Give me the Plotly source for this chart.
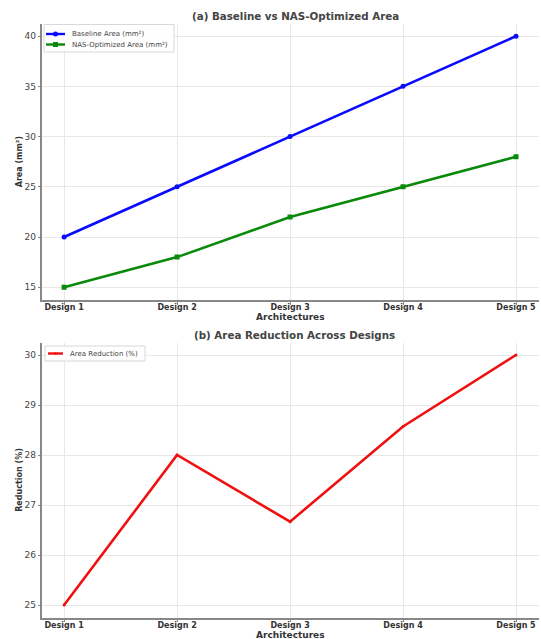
import plotly.graph_objects as go

designs = ["Design 1", "Design 2", "Design 3", "Design 4", "Design 5"]
baseline_area = [20, 25, 30, 35, 40]
nas_area = [15, 18, 22, 25, 28]
reduction_pct = [(b - n) / b * 100 for b, n in zip(baseline_area, nas_area)]

W, H = 541, 639
FONT = "DejaVu Sans"
BLUE, GREEN, RED = "#0a0aff", "#0a8a0a", "#f01010"


def px(x):
    return x / W


def py(y):
    return 1 - y / H


fig = go.Figure()

fig.add_trace(go.Scatter(
    x=designs, y=baseline_area, mode="lines+markers", name="Baseline Area (mm²)",
    line=dict(color=BLUE, width=2.6), marker=dict(size=5, color=BLUE),
    xaxis="x", yaxis="y"))
fig.add_trace(go.Scatter(
    x=designs, y=nas_area, mode="lines+markers", name="NAS-Optimized Area (mm²)",
    line=dict(color=GREEN, width=2.6), marker=dict(size=5, color=GREEN, symbol="square"),
    xaxis="x", yaxis="y"))
fig.add_trace(go.Scatter(
    x=designs, y=reduction_pct, mode="lines+markers", name="Area Reduction (%)",
    line=dict(color=RED, width=2.6), marker=dict(size=3, color=RED),
    xaxis="x2", yaxis="y2"))

xdom = [px(41.5), px(538.6)]
y1dom = [py(299.8), py(23.6)]
y2dom = [py(617.5), py(342.5)]

grid = "#e8e8e8"
axcol = "#888888"
common_x = dict(
    type="category", range=[-0.2, 4.2], domain=xdom, automargin=False,
    showgrid=True, gridcolor=grid, gridwidth=1,
    showline=True, linecolor=axcol, linewidth=1.5,
    ticks="outside", ticklen=3, tickcolor=axcol, ticklabelstandoff=-4,
    tickfont=dict(family=FONT, size=8, color="#333333", weight="bold"),
    zeroline=False,
)
common_y = dict(
    automargin=False,
    showgrid=True, gridcolor=grid, gridwidth=1,
    showline=True, linecolor=axcol, linewidth=1.5,
    ticks="outside", ticklen=2, tickcolor=axcol,
    tickfont=dict(family=FONT, size=9, color="#444444"),
    zeroline=False,
)

# hand-built compact legends (boxes, line samples, markers and labels)
shapes = []
annotations = []


def legend_box(x0, y0, x1, y1):
    shapes.append(dict(type="rect", xref="paper", yref="paper",
                       x0=px(x0), x1=px(x1), y0=py(y1), y1=py(y0),
                       line=dict(color="#d8d8d8", width=1), fillcolor="rgba(255,255,255,0.9)"))


def legend_entry(x0, x1, y, color, label, marker=None, msize=2.5):
    shapes.append(dict(type="line", xref="paper", yref="paper",
                       x0=px(x0), x1=px(x1), y0=py(y), y1=py(y),
                       line=dict(color=color, width=2.4)))
    xm = (x0 + x1) / 2
    if marker == "circle":
        shapes.append(dict(type="circle", xref="paper", yref="paper",
                           x0=px(xm - msize), x1=px(xm + msize), y0=py(y + msize), y1=py(y - msize),
                           line=dict(width=0), fillcolor=color))
    elif marker == "square":
        shapes.append(dict(type="rect", xref="paper", yref="paper",
                           x0=px(xm - msize), x1=px(xm + msize), y0=py(y + msize), y1=py(y - msize),
                           line=dict(width=0), fillcolor=color))
    annotations.append(dict(text=label, x=px(x1 + 5), y=py(y), xref="paper", yref="paper",
                            showarrow=False, xanchor="left", yanchor="middle",
                            font=dict(family=FONT, size=7, color="#444444")))


legend_box(44, 24.5, 174, 52)
legend_entry(46, 65, 34, BLUE, "Baseline Area (mm²)", "circle")
legend_entry(46, 65, 44.5, GREEN, "NAS-Optimized Area (mm²)", "square")

legend_box(45, 346, 145, 361)
legend_entry(48, 63, 353.5, RED, "Area Reduction (%)", "circle", 1.3)


def text_label(text, x, y, size, color="#444444"):
    annotations.append(dict(text=text, x=px(x), y=py(y), xref="paper", yref="paper",
                            showarrow=False, xanchor="center", yanchor="middle",
                            font=dict(family=FONT, size=size, color=color)))


text_label("<b>(a) Baseline vs NAS-Optimized Area</b>", 295, 15.5, 10.3)
text_label("<b>(b) Area Reduction Across Designs</b>", 294, 334.5, 10.3)
text_label("<b>Architectures</b>", 290, 317.5, 9, "#333333")
text_label("<b>Architectures</b>", 290, 634.5, 9, "#333333")

fig.update_layout(
    width=W, height=H,
    margin=dict(l=0, r=0, t=0, b=0, autoexpand=False),
    paper_bgcolor="white", plot_bgcolor="white",
    showlegend=False,
    xaxis=dict(**common_x, anchor="y"),
    yaxis=dict(**common_y, domain=y1dom, range=[13.75, 41.25], anchor="x",
               tickvals=[15, 20, 25, 30, 35, 40],
               title=dict(text="<b>Area (mm²)</b>", font=dict(family=FONT, size=8, color="#333333"), standoff=1)),
    xaxis2=dict(**common_x, anchor="y2"),
    yaxis2=dict(**common_y, domain=y2dom, range=[24.75, 30.25], anchor="x2",
                tickvals=[25, 26, 27, 28, 29, 30],
                title=dict(text="<b>Reduction (%)</b>", font=dict(family=FONT, size=8, color="#333333"), standoff=1)),
    shapes=shapes,
    annotations=annotations,
)

fig.write_html("out.html")
